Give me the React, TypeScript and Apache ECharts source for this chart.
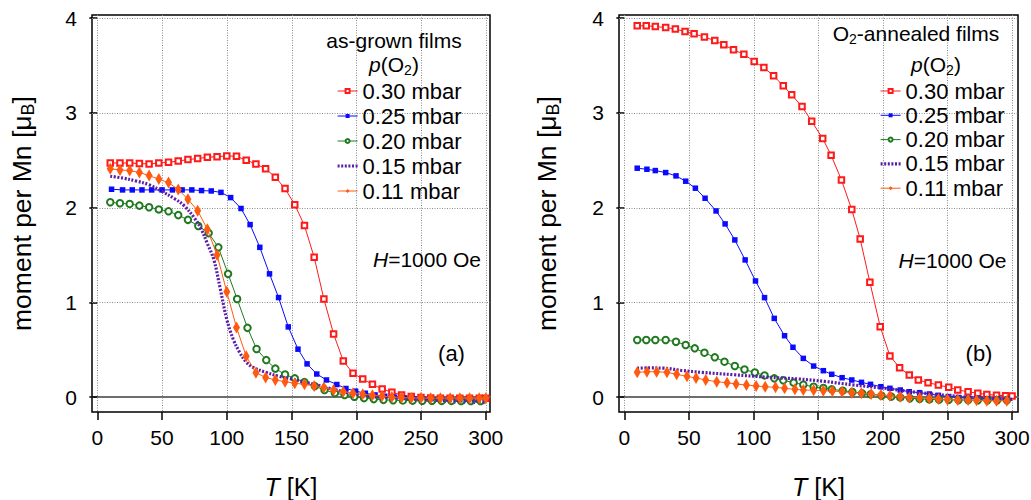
import React, { useEffect, useRef } from "react";
import * as echarts from "echarts";

// ---------- data ----------
const xTicks = [0, 50, 100, 150, 200, 250, 300];
const yTicks = [0, 1, 2, 3, 4];
const seriesNames = ["0.30 mbar", "0.25 mbar", "0.20 mbar", "0.15 mbar", "0.11 mbar"];

// (a) as-grown films: [T (K), moment per Mn (μB)]
const grown030 = [
  [10, 2.47], [17.5, 2.47], [25, 2.47], [32.5, 2.464], [40, 2.46], [47.5, 2.47], [55, 2.478], [62.5, 2.49],
  [70, 2.506], [77.5, 2.517], [85, 2.53], [92.5, 2.537], [100, 2.545], [107.5, 2.54], [115, 2.5], [122.5, 2.46],
  [130, 2.41], [137.5, 2.32], [145, 2.2], [152.5, 2.03], [160, 1.81], [167.5, 1.475], [175, 1.035], [182.5, 0.665],
  [190, 0.38], [197.5, 0.25], [205, 0.19], [212.5, 0.134], [220, 0.085], [227.5, 0.05], [235, 0.022], [242.5, 0.005],
  [250, -0.005], [257.5, -0.01], [265, -0.012], [272.5, -0.013], [280, -0.014], [287.5, -0.014], [295, -0.014], [300, -0.014],
];
const grown025 = [
  [11, 2.193], [19.5, 2.186], [27, 2.186], [34.5, 2.186], [42, 2.186], [50, 2.186], [58, 2.186], [65.5, 2.186],
  [73, 2.186], [80.5, 2.179], [88, 2.175], [95.5, 2.16], [103, 2.105], [111, 1.99], [118, 1.82], [125.5, 1.58],
  [133, 1.3], [140, 1.05], [147.5, 0.74], [155, 0.505], [162, 0.35], [169.5, 0.243], [177, 0.18], [185, 0.132],
  [192, 0.09], [199.5, 0.062], [207, 0.04], [214.5, 0.022], [222, 0.008], [229.5, -0.002], [237, -0.012], [244.5, -0.02],
  [252, -0.026], [259.5, -0.03], [267, -0.035], [274.5, -0.04], [282, -0.042], [289.5, -0.045], [297, -0.046],
];
const grown020 = [
  [10, 2.056], [17.5, 2.045], [25, 2.038], [32.5, 2.02], [40, 2.003], [47.5, 1.98], [55, 1.96], [62.5, 1.92],
  [70, 1.87], [78, 1.805], [86, 1.73], [93.5, 1.58], [101, 1.3], [108, 1.035], [116, 0.73], [123, 0.507],
  [130.5, 0.39], [137.5, 0.3], [145, 0.238], [152.5, 0.197], [160, 0.158], [168, 0.115], [175.5, 0.074], [183.5, 0.043],
  [191, 0.022], [198.5, 0.003], [206, -0.012], [213.5, -0.022], [221, -0.03], [228.5, -0.034], [236, -0.036], [243.5, -0.038],
  [251, -0.04], [258.5, -0.04], [266, -0.041], [273.5, -0.041], [281, -0.042], [288.5, -0.042], [296, -0.042],
];
const grown015 = [
  [10, 2.33], [20, 2.31], [30, 2.28], [40, 2.24], [50, 2.17], [60, 2.09], [67, 2.02], [75, 1.89],
  [80, 1.78], [85, 1.62], [90, 1.45], [95, 1.14], [100, 0.82], [105, 0.61], [110, 0.47], [115, 0.37],
  [120, 0.315], [130, 0.262], [140, 0.22], [150, 0.19], [160, 0.158], [170, 0.126], [180, 0.09], [190, 0.056],
  [200, 0.026], [210, 0.006], [220, -0.004], [235, -0.015], [250, -0.025], [265, -0.034], [280, -0.04], [300, -0.046],
];
const grown011 = [
  [10, 2.408], [17.5, 2.397], [25, 2.39], [32.5, 2.37], [40, 2.337], [47.5, 2.3], [55, 2.263], [62.5, 2.19],
  [70, 2.087], [77.5, 1.967], [85, 1.77], [92.5, 1.5], [100, 1.11], [107.5, 0.735], [115, 0.43], [122.5, 0.257],
  [130, 0.207], [137.5, 0.18], [145, 0.162], [152.5, 0.145], [160, 0.134], [167.5, 0.116], [175, 0.1], [182.5, 0.074],
  [190, 0.056], [197.5, 0.04], [205, 0.03], [212.5, 0.02], [220, 0.01], [227.5, 0.0], [235, -0.005], [242.5, -0.01],
  [250, -0.01], [257.5, -0.012], [265, -0.012], [272.5, -0.012], [280, -0.012], [287.5, -0.012], [295, -0.012], [300, -0.012],
];

// (b) O2-annealed films
const annealed030 = [
  [10, 3.918], [17, 3.918], [24, 3.91], [32, 3.9], [39.5, 3.883], [47, 3.857], [54, 3.833], [62, 3.8],
  [70, 3.762], [77, 3.717], [84.5, 3.664], [92.5, 3.619], [100.5, 3.541], [108, 3.477], [115.5, 3.39], [123, 3.284],
  [129.5, 3.189], [137.5, 3.065], [145, 2.91], [153.5, 2.728], [160, 2.552], [168, 2.291], [176, 1.978], [182.5, 1.668],
  [190, 1.211], [198, 0.742], [205.5, 0.433], [213, 0.31], [220.5, 0.232], [227.5, 0.18], [235, 0.151], [243, 0.127],
  [251, 0.102], [258, 0.074], [266, 0.056], [273.5, 0.039], [280.5, 0.028], [288, 0.018], [295, 0.014], [300, 0.01],
];
const annealed025 = [
  [10, 2.415], [17.5, 2.404], [24, 2.39], [32, 2.369], [40, 2.334], [47.5, 2.278], [55, 2.204], [62.5, 2.098],
  [71, 1.964], [78, 1.827], [85.5, 1.658], [93.5, 1.447], [101.5, 1.225], [108.5, 1.049], [116, 0.83], [124, 0.647],
  [130.5, 0.525], [138.5, 0.408], [146.5, 0.327], [154, 0.278], [160.5, 0.24], [168.5, 0.204], [176, 0.18], [183.5, 0.155],
  [190.5, 0.134], [198.5, 0.109], [205.5, 0.092], [213.5, 0.074], [220.5, 0.056], [228.5, 0.046], [236, 0.032], [243, 0.018],
  [251, 0.005], [258.5, -0.005], [266, -0.012], [273.5, -0.015], [281, -0.018], [288.5, -0.02], [296, -0.022],
];
const annealed020 = [
  [10, 0.602], [17, 0.602], [24, 0.602], [32, 0.602], [40, 0.584], [47.5, 0.549], [54.5, 0.514], [62, 0.468],
  [70, 0.419], [77.5, 0.373], [85.5, 0.327], [93, 0.29], [101, 0.259], [108.5, 0.228], [116, 0.197], [123, 0.176],
  [131, 0.152], [138.5, 0.13], [146.5, 0.108], [154, 0.095], [160.5, 0.081], [169, 0.067], [176.5, 0.053], [184, 0.039],
  [190.5, 0.028], [199, 0.014], [206.5, 0.004], [213.5, -0.004], [221, -0.014], [228.5, -0.02], [236, -0.025], [243.5, -0.028],
  [251, -0.03], [258.5, -0.032], [266, -0.032], [273.5, -0.034], [281, -0.034], [288.5, -0.035], [296, -0.035],
];
const annealed015 = [
  [10, 0.305], [20, 0.307], [30, 0.305], [45, 0.28], [60, 0.26], [85, 0.235], [110, 0.21], [135, 0.19],
  [155, 0.165], [177, 0.128], [203, 0.09], [229, 0.046], [255, 0.01], [280, -0.014], [300, -0.025],
];
const annealed011 = [
  [10, 0.261], [17.5, 0.267], [25, 0.267], [33, 0.261], [40.5, 0.24], [48.5, 0.218], [55.5, 0.2], [63, 0.18],
  [71.5, 0.162], [79.5, 0.151], [86.5, 0.137], [94.5, 0.127], [102, 0.116], [109, 0.109], [117, 0.102], [124, 0.092],
  [132, 0.081], [138.5, 0.074], [146.5, 0.072], [154, 0.067], [161, 0.063], [168.5, 0.056], [176, 0.046], [183.5, 0.039],
  [191, 0.032], [198.5, 0.021], [205.5, 0.014], [213.5, 0.004], [220.5, -0.004], [228.5, -0.007], [236, -0.014], [243, -0.021],
  [250, -0.025], [258, -0.032], [266, -0.032], [272.5, -0.035], [280.5, -0.039], [288, -0.039], [296, -0.039],
];

const panelA = [grown030, grown025, grown020, grown015, grown011];
const panelB = [annealed030, annealed025, annealed020, annealed015, annealed011];

// axis ranges (frame extents)
const X_MIN = -4.1;
const X_MAX_A = 303.3;
const X_MAX_B = 304.6;
const Y_MIN = -0.158;
const Y_MAX = 4.032;

// ---------- styles ----------
const FONT = "'Liberation Sans', Arial, Helvetica, sans-serif";
const seriesStyles = [
  { color: "#ff1a1a", symbol: "emptyRect", size: 5.5, lineWidth: 1, dash: "solid" as any, border: 1 },
  { color: "#0a0aff", symbol: "rect", size: 5.5, lineWidth: 1, dash: "solid" as any, border: 0 },
  { color: "#1f7a1f", symbol: "emptyCircle", size: 6.5, lineWidth: 1, dash: "solid" as any, border: 1 },
  { color: "#5a1ea8", symbol: "none", size: 0, lineWidth: 3.2, dash: [2, 1.6] as any, border: 0 },
  { color: "#ff5a10", symbol: "diamond", size: [7, 12] as any, lineWidth: 1, dash: "solid" as any, border: 0 },
];

function makeSeries(panel: number[][][], idx: number) {
  return panel.map((data, i) => {
    const s = seriesStyles[i];
    return {
      type: "line",
      name: seriesNames[i],
      data,
      xAxisIndex: idx,
      yAxisIndex: idx,
      symbol: s.symbol,
      symbolSize: s.size,
      showSymbol: s.symbol !== "none",
      smooth: s.symbol === "none" ? 0.4 : false,
      z: 4 + i,
      lineStyle: { color: s.color, width: s.lineWidth, type: s.dash },
      itemStyle: { color: s.color, borderColor: s.color, borderWidth: s.border },
      emphasis: { disabled: true },
    };
  });
}

function xAxisOf(gridIndex: number, max: number) {
  return {
    type: "value",
    gridIndex,
    position: "bottom",
    min: X_MIN,
    max,
    splitNumber: 6,
    axisLine: { show: false, onZero: false },
    splitLine: { show: false },
    axisTick: { show: true, inside: false, length: 8, customValues: xTicks, lineStyle: { color: "#000", width: 1.5 } },
    axisLabel: { customValues: xTicks, fontSize: 21, color: "#000", fontFamily: FONT, margin: 15 },
    name: "{it|T} [K]",
    nameLocation: "middle",
    nameGap: 62,
    nameTextStyle: {
      fontSize: 25,
      color: "#000",
      fontFamily: FONT,
      rich: { it: { fontStyle: "italic", fontSize: 25, fontFamily: FONT, color: "#000" } },
    },
  };
}

// second x axis per panel: only its axis line, placed on y = 0 (the zero line)
function zeroAxisOf(gridIndex: number, max: number) {
  return {
    type: "value",
    gridIndex,
    position: "bottom",
    min: X_MIN,
    max,
    axisLine: { show: true, onZero: true, onZeroAxisIndex: gridIndex, lineStyle: { color: "#6e6e6e", width: 2 } },
    axisTick: { show: false },
    axisLabel: { show: false },
    splitLine: { show: false },
  };
}

function yAxisOf(gridIndex: number, gap: number) {
  return {
    type: "value",
    gridIndex,
    min: Y_MIN,
    max: Y_MAX,
    splitNumber: 4,
    axisLine: { show: false },
    splitLine: { show: false },
    axisTick: { show: true, inside: false, length: 8, customValues: yTicks, lineStyle: { color: "#000", width: 1.5 } },
    axisLabel: { customValues: yTicks, fontSize: 21, color: "#000", fontFamily: FONT, margin: 15 },
    name: "moment per Mn [μ{sub|B}]",
    nameLocation: "middle",
    nameGap: gap,
    nameTextStyle: {
      fontSize: 26.5,
      lineHeight: 30,
      color: "#000",
      fontFamily: FONT,
      rich: { sub: { fontSize: 18, lineHeight: 18, verticalAlign: "bottom", fontFamily: FONT, color: "#000" } },
    },
  };
}

function legendOf(left: number, top: number, gap: number) {
  return {
    orient: "vertical",
    left,
    top,
    padding: 0,
    data: seriesNames.map((n, i) =>
      seriesStyles[i].symbol === "none"
        ? { name: n, itemStyle: { color: "rgba(0,0,0,0)", borderColor: "rgba(0,0,0,0)", borderWidth: 0 } }
        : { name: n }
    ),
    itemWidth: 20,
    itemHeight: 5,
    itemGap: gap,
    selectedMode: false,
    textStyle: { fontSize: 22, color: "#000", fontFamily: FONT },
    lineStyle: { width: "inherit" },
  };
}

function txt(x: number, y: number, text: string, size = 21) {
  return {
    type: "text",
    x,
    y,
    z: 10,
    silent: true,
    style: {
      text,
      fill: "#000",
      fontSize: size,
      fontFamily: FONT,
      lineHeight: 26,
      align: "center",
      verticalAlign: "middle",
      rich: {
        sub: { fontSize: 14, lineHeight: 14, verticalAlign: "bottom", fontFamily: FONT, fill: "#000" },
        it: { fontStyle: "italic", fontSize: size, lineHeight: 26, fontFamily: FONT, fill: "#000" },
        n: { fontSize: size, lineHeight: 26, fontFamily: FONT, fill: "#000" },
      },
    },
  };
}

const texts = [
  txt(394, 40, "{n|as-grown films}"),
  txt(394, 64, "{it|p}{n|(O}{sub|2}{n|)}"),
  txt(916, 33, "{n|O}{sub|2}{n|-annealed films}"),
  txt(936, 64, "{it|p}{n|(O}{sub|2}{n|)}"),
  txt(427, 259, "{it|H}{n|=1000 Oe}"),
  txt(952.5, 260, "{it|H}{n|=1000 Oe}"),
  txt(451.5, 353, "{n|(a)}", 22),
  txt(979, 353, "{n|(b)}", 22),
];

// dotted grid lines, positioned through the chart's own scales (convertToPixel)
function gridLines(chart: any) {
  const out: any[] = [];
  const style = { stroke: "#8c8c8c", lineWidth: 1, lineDash: [1, 1.5] };
  ([[0, X_MAX_A], [1, X_MAX_B]] as number[][]).forEach(([idx, xMax]) => {
    const finder = { xAxisIndex: idx, yAxisIndex: idx };
    xTicks.forEach((v) => {
      const p1 = chart.convertToPixel(finder, [v, Y_MIN]) as number[];
      const p2 = chart.convertToPixel(finder, [v, Y_MAX]) as number[];
      if (!p1 || !p2) return;
      const x = Math.round(p1[0]) + 0.5;
      out.push({ type: "line", silent: true, z: 1, shape: { x1: x, y1: p2[1], x2: x, y2: p1[1] }, style });
    });
    yTicks
      .filter((v) => v !== 0)
      .forEach((v) => {
        const p1 = chart.convertToPixel(finder, [X_MIN, v]) as number[];
        const p2 = chart.convertToPixel(finder, [xMax, v]) as number[];
        if (!p1 || !p2) return;
        const y = Math.round(p1[1]) + 0.5;
        out.push({ type: "line", silent: true, z: 1, shape: { x1: p1[0], y1: y, x2: p2[0], y2: y }, style });
      });
  });
  return out;
}

export default function App() {
  const ref = useRef<HTMLDivElement>(null);
  useEffect(() => {
    if (!ref.current) return;
    const chart = echarts.init(ref.current, null, { renderer: "svg" });
    chart.setOption({
      animation: false,
      backgroundColor: "#fff",
      grid: [
        { left: 92, top: 15, width: 398, height: 397, show: true, z: 0, borderColor: "#000", borderWidth: 1.5, backgroundColor: "rgba(0,0,0,0)", containLabel: false, outerBoundsMode: "none" },
        { left: 619, top: 15, width: 399, height: 397, show: true, z: 0, borderColor: "#000", borderWidth: 1.5, backgroundColor: "rgba(0,0,0,0)", containLabel: false, outerBoundsMode: "none" },
      ],
      xAxis: [xAxisOf(0, X_MAX_A), xAxisOf(1, X_MAX_B), zeroAxisOf(0, X_MAX_A), zeroAxisOf(1, X_MAX_B)],
      yAxis: [yAxisOf(0, 55), yAxisOf(1, 57)],
      legend: [legendOf(336, 80, 3), legendOf(879, 80, 2.3)],
      series: [...makeSeries(panelA, 0), ...makeSeries(panelB, 1)],
    });
    let lines: any[] = [];
    try {
      lines = gridLines(chart);
    } catch (e) {
      lines = [];
    }
    chart.setOption({ graphic: [...lines, ...texts] });
    return () => chart.dispose();
  }, []);
  return (
    <div
      ref={ref}
      style={{ position: "fixed", left: 0, top: 0, width: 1031, height: 500, background: "#fff" }}
    />
  );
}
